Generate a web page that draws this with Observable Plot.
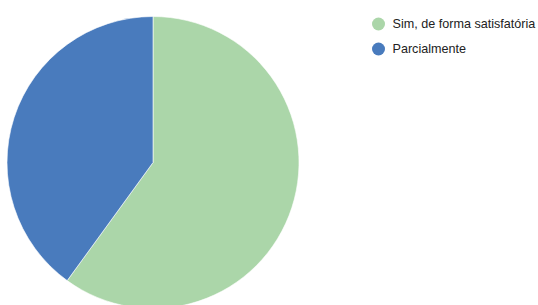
<!DOCTYPE html>
<html>
<head>
<meta charset="utf-8">
<script src="https://cdn.jsdelivr.net/npm/d3@7"></script>
<script src="https://cdn.jsdelivr.net/npm/@observablehq/plot@0.6"></script>
<style>
  html, body { margin: 0; padding: 0; background: #fff; }
  #chart svg { display: block; }
</style>
</head>
<body>
<div id="chart"></div>
<script>
const categories = ["Sim, de forma satisfatória", "Parcialmente"];
const values = [60, 40];
const colors = ["#abd6a9", "#497bbd"];

const data = categories.map((c, i) => ({category: c, value: values[i], order: i}));

const W = 538, H = 305;
const cx = 153, cy = 162.5, R = 146;

function pieMark(index, scales, vals, dims, context) {
  const g = d3.create("svg:g");
  const arcs = d3.pie().sort(null).value(d => d.value)(data);
  const arc = d3.arc().innerRadius(0).outerRadius(R);
  g.attr("transform", `translate(${cx},${cy})`)
    .selectAll("path")
    .data(arcs)
    .join("path")
    .attr("d", arc)
    .attr("fill", d => scales.color(d.data.category))
    .attr("stroke", "#fff")
    .attr("stroke-width", 0.6);
  return g.node();
}

const chart = Plot.plot({
  width: W,
  height: H,
  margin: 0,
  style: {background: "#fff", fontFamily: "'Liberation Sans', Arial, sans-serif"},
  x: {domain: [0, W], range: [0, W], axis: null},
  y: {domain: [0, H], range: [0, H], axis: null},
  color: {domain: categories, range: colors},
  marks: [
    pieMark,
    Plot.dot(data, {x: () => 378, y: d => 23.5 + d.order * 25, r: 6.5, fill: "category", stroke: null}),
    Plot.text(data, {x: () => 392, y: d => 23.5 + d.order * 25, text: "category", textAnchor: "start", fontSize: 12.6, fontFamily: "'Liberation Sans', Arial, sans-serif", fill: "#222", lineAnchor: "middle"})
  ]
});

document.getElementById("chart").appendChild(chart);
</script>
</body>
</html>
